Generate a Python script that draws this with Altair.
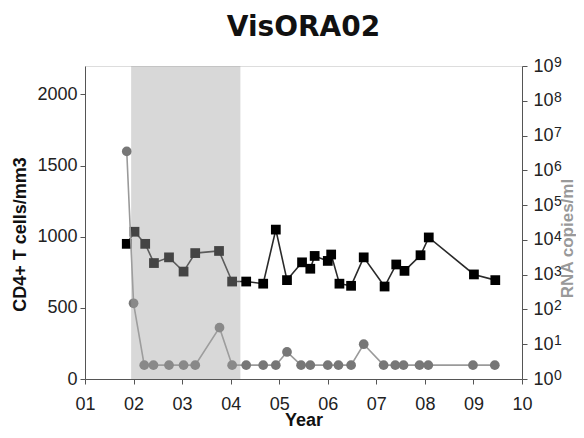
import altair as alt
import pandas as pd

# ---- data ----
cd4_year = [1.86, 2.02, 2.24, 2.42, 2.73, 3.03, 3.27, 3.76, 4.03, 4.32, 4.67, 4.93,
            5.16, 5.47, 5.64, 5.73, 6.00, 6.07, 6.24, 6.48, 6.74, 7.17, 7.41, 7.58,
            7.91, 8.08, 9.01, 9.45]
cd4_count = [950, 1035, 950, 815, 855, 755, 885, 900, 685, 685, 670, 1050,
             695, 820, 775, 865, 830, 875, 670, 655, 855, 650, 805, 760,
             870, 995, 735, 695]

vl_year = [1.86, 2.00, 2.22, 2.41, 2.73, 3.03, 3.27, 3.77, 4.03, 4.32, 4.67, 4.93,
           5.16, 5.45, 5.64, 6.00, 6.22, 6.48, 6.74, 7.15, 7.39, 7.56, 7.89, 8.07,
           8.99, 9.44]
vl_copies = [3.5e6, 150, 2.5, 2.5, 2.5, 2.5, 2.5, 30, 2.5, 2.5, 2.5, 2.5,
             6, 2.5, 2.5, 2.5, 2.5, 2.5, 10, 2.5, 2.5, 2.5, 2.5, 2.5,
             2.5, 2.5]

shade_start = [1.95]
shade_end = [4.2]

x_ticks = [1, 2, 3, 4, 5, 6, 7, 8, 9, 10]
left_ticks = [0, 500, 1000, 1500, 2000]
right_ticks = [1, 10, 100, 1000, 10000, 100000, 1000000, 10000000, 100000000, 1000000000]
right_exponents = ["0", "1", "2", "3", "4", "5", "6", "7", "8", "9"]
x_right_edge = [10] * len(right_ticks)

cd4_df = pd.DataFrame({"year": cd4_year, "cd4": cd4_count})
vl_df = pd.DataFrame({"year": vl_year, "rna": vl_copies})
shade_df = pd.DataFrame({"start": shade_start, "end": shade_end})
exp_df = pd.DataFrame({"xe": x_right_edge, "val": right_ticks, "exp": right_exponents})

FONT = "Liberation Sans"
AX = "#555555"

xscale = alt.Scale(domain=[1, 10], nice=False, zero=False)
xaxis = alt.Axis(
    values=x_ticks,
    labelExpr="datum.value < 10 ? '0' + datum.value : '' + datum.value",
    title="Year", titleFont=FONT, titleFontSize=18, titleFontWeight="bold",
    titleColor="#111111", titleBaseline="alphabetic", titleY=46,
    labelFont=FONT, labelFontSize=18, labelColor="#222222",
    labelBaseline="alphabetic", labelPadding=25, labelFlush=False,
    tickSize=5, tickColor=AX, domainColor=AX, grid=False,
)

left_axis = alt.Axis(
    orient="left", values=left_ticks, format="d", title="CD4+ T cells/mm3",
    titleFont=FONT, titleFontSize=18, titleFontWeight="bold", titleColor="#111111",
    titleAngle=270, titleBaseline="alphabetic", titleX=-60, titleY=168,
    labelFont=FONT, labelFontSize=18, labelColor="#222222", labelPadding=3,
    tickSize=5, tickColor=AX, domainColor=AX, grid=False,
)

right_axis = alt.Axis(
    orient="right", values=right_ticks, title="RNA copies/ml",
    labelExpr="'10'",
    titleFont=FONT, titleFontSize=17, titleFontWeight="bold", titleColor="#999999",
    titleAngle=270, titleBaseline="alphabetic", titleX=50, titleY=172,
    labelFont=FONT, labelFontSize=18, labelColor="#222222", labelPadding=6,
    tickSize=5, tickColor=AX, domainColor=AX, grid=False,
)

cd4_base = alt.Chart(cd4_df).encode(
    x=alt.X("year:Q", scale=xscale, axis=xaxis),
    y=alt.Y("cd4:Q", scale=alt.Scale(domain=[0, 2200], nice=False), axis=left_axis),
)
cd4_layer = alt.layer(
    cd4_base.mark_line(color="#2a2a2a", strokeWidth=1.6),
    cd4_base.mark_point(shape="square", filled=True, color="#000000", size=95, opacity=1),
)

vl_yscale = alt.Scale(type="log", domain=[1, 1e9], nice=False)
vl_base = alt.Chart(vl_df).encode(
    x=alt.X("year:Q", scale=xscale, axis=xaxis),
    y=alt.Y("rna:Q", scale=vl_yscale, axis=right_axis),
)
exponents = alt.Chart(exp_df).mark_text(
    align="left", baseline="alphabetic", dx=32, dy=1, fontSize=14, font=FONT, color="#222222"
).encode(
    x=alt.X("xe:Q", scale=xscale, axis=xaxis),
    y=alt.Y("val:Q", scale=vl_yscale, axis=right_axis),
    text="exp:N",
)
vl_layer = alt.layer(
    vl_base.mark_line(color="#9a9a9a", strokeWidth=1.6),
    vl_base.mark_point(shape="circle", filled=True, color="#777777", size=95, opacity=1),
    exponents,
)

shade = alt.Chart(shade_df).mark_rect(color="#a3a3a3", opacity=0.42).encode(
    x=alt.X("start:Q", scale=xscale, axis=xaxis),
    x2="end:Q",
)

chart = alt.layer(cd4_layer, vl_layer, shade).resolve_scale(y="independent").properties(
    width=437, height=313,
    title=alt.TitleParams("VisORA02", font="DejaVu Sans", fontSize=28, fontWeight="bold",
                          color="#111111", anchor="middle", frame="group", offset=14),
    autosize=alt.AutoSizeParams(type="none"),
    padding={"left": 77, "top": 58, "right": 54, "bottom": 51},
).configure_view(stroke=AX, strokeWidth=1).configure(background="white")

chart.save("out.html", embed_options={"renderer": "svg", "actions": False})
